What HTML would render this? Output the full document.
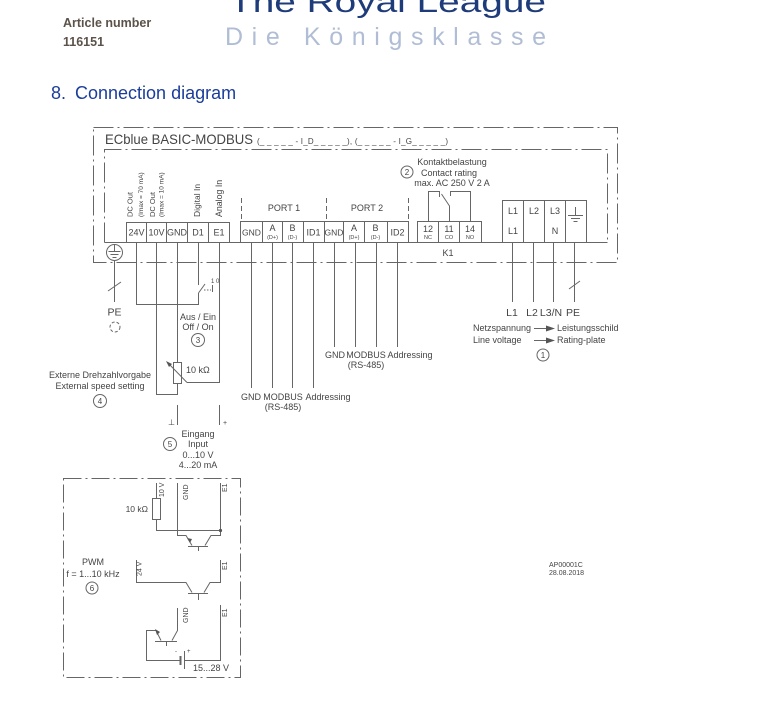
<!DOCTYPE html>
<html><head><meta charset="utf-8"><style>
html,body{margin:0;padding:0;background:#fff;}
svg{display:block;}
text{font-family:"Liberation Sans",Arial,sans-serif;}
</style></head><body>
<svg width="758" height="704" viewBox="0 0 758 704" xmlns="http://www.w3.org/2000/svg">
<rect width="758" height="704" fill="#fff"/>
<!-- header -->
<text x="63" y="27" font-size="12.5" font-weight="bold" fill="#5b5249">Article number</text>
<text x="63" y="46" font-size="12.5" font-weight="bold" fill="#5b5249">116151</text>
<text x="229" y="12" font-size="30" fill="#1f3c7a" textLength="317" lengthAdjust="spacingAndGlyphs">The Royal League</text>
<text x="225" y="45" font-size="25" fill="#b0bdd5" textLength="321" lengthAdjust="spacing">Die Königsklasse</text>
<text x="51" y="99" font-size="18" fill="#1b3d9b">8.</text>
<text x="75" y="99" font-size="18" fill="#1b3d9b">Connection diagram</text>

<g stroke="#666" stroke-width="1" fill="none">
  <!-- outer & inner borders -->
  <path d="M93.5,127.5 H617.5 V262.5 H93.5 Z" stroke-dasharray="20 4 2 4"/>
  <path d="M104.5,242.5 V149.5 H607.5 V242.5" stroke-dasharray="20 4 2 4"/>
  <path d="M104.5,242.5 H607.5"/>
  <!-- terminal group 1 -->
  <rect x="126.5" y="222.5" width="103" height="20"/>
  <path d="M146.5,222.5V242.5M166.5,222.5V242.5M187.5,222.5V242.5M208.5,222.5V242.5"/>
  <!-- ports -->
  <rect x="240.5" y="221.5" width="168" height="21"/>
  <path d="M262.5,221.5V242.5M282.5,221.5V242.5M303.5,221.5V242.5M324.5,221.5V242.5M343.5,221.5V242.5M364.5,221.5V242.5M387.5,221.5V242.5"/>
  <path d="M241.5,198V220M326.5,198V220M408.5,198V220" stroke-dasharray="5 3"/>
  <!-- relay -->
  <rect x="417.5" y="221.5" width="64" height="21"/>
  <path d="M438.5,221.5V242.5M459.5,221.5V242.5"/>
  <path d="M428.5,221.5 V191.5 H439.5 V197"/>
  <path d="M470.5,221.5 V191.5 H450.5 V196"/>
  <path d="M449.5,221.5 V206 L441.5,194"/>
  <!-- mains -->
  <rect x="502.5" y="200.5" width="84" height="42"/>
  <path d="M523.5,200.5V242.5M544.5,200.5V242.5M565.5,200.5V242.5"/>
  <path d="M575.5,207V215.5M568,215.5H583M571,218.5H580M573.5,221.5H577.5"/>
  <!-- PE left -->
  <circle cx="114.5" cy="252.5" r="8"/>
  <path d="M114.5,245V251.5M108.5,251.5H120.5M110.5,254.5H118.5M112.5,257.5H116.5"/>
  <path d="M114.5,260.5V302M108,291L121,282"/>
  <circle cx="115" cy="327" r="5" stroke-dasharray="3 2"/>
  <!-- left wiring -->
  <path d="M136.5,242.5 V304.5 H198.5 V293"/>
  <path d="M198.5,242.5 V285"/>
  <path d="M198.5,293 L205,284"/>
  <path d="M204,290 H211" stroke-dasharray="1.5 1.5"/>
  <path d="M212.5,285 V292"/>
  <path d="M156.5,242.5 V394.5 H177.5 V383.5"/>
  <path d="M177.5,242.5 V362.5"/>
  <rect x="173.5" y="362.5" width="8" height="21"/>
  <path d="M187,382.5 L168,363"/>
  <path d="M187,382.5 H219.5 V242.5"/>
  <path d="M177.5,405V425M219.5,405V425"/>
  <!-- port wires -->
  <path d="M251.5,242.5V388M272.5,242.5V388M292.5,242.5V388M313.5,242.5V388"/>
  <path d="M334.5,242.5V347M355.5,242.5V347M376.5,242.5V347M397.5,242.5V347"/>
  <!-- mains wires -->
  <path d="M512.5,242.5V302M533.5,242.5V302M553.5,242.5V302M574.5,242.5V302"/>
  <path d="M569,289L580,281"/>
  <path d="M534,328.5H548M534,340.5H548"/>
  <!-- circles -->
  <circle cx="407" cy="172" r="6"/>
  <circle cx="198" cy="340" r="6.5"/>
  <circle cx="100" cy="401" r="6.5"/>
  <circle cx="170" cy="444" r="6.5"/>
  <circle cx="543" cy="355" r="6"/>
  <circle cx="92" cy="588" r="6"/>
  <!-- PWM box -->
  <rect x="63.5" y="478.5" width="177" height="199" stroke-dasharray="18 4 2 4"/>
  <path d="M156.5,483 V498.5 M156.5,519.5 V530.5 H220.5"/>
  <rect x="152.5" y="498.5" width="8" height="21"/>
  <path d="M177.5,483 V535.5 H186 L192,545.5"/>
  <path d="M220.5,483 V535.5 H211 L205,545.5"/>
  <path d="M188,546.5 H208 M198.5,546.5 V551"/>
  <path d="M136.5,560 V582.5 H186 L192,592.5"/>
  <path d="M188,593.5 H208 M198.5,593.5 V600"/>
  <path d="M204,592.5 L210,582.5 H220.5 V560"/>
  <path d="M177.5,608 V630.5 L172,640.5"/>
  <path d="M155,641.5 H177 M166.5,641.5 V646"/>
  <path d="M161,640.5 L156,630.5 H146.5 V660.5 H180"/>
  <path d="M180.5,656 V665" stroke-width="2"/>
  <path d="M184.5,651 V669"/>
  <path d="M184.5,660.5 H220.5 V605"/>
</g>
<g fill="#555">
  <circle cx="220.5" cy="530.5" r="1.6"/>
  <polygon points="546,325.5 555,328.5 546,331.5"/>
  <polygon points="546,337.5 555,340.5 546,343.5"/>
  <polygon points="166,361 172,364 169,367"/>
  <polygon points="187,538 190,543 192,539"/>
  <polygon points="155,629 160,632 157,635"/>
</g>

<g fill="#444" font-size="9">
  <text x="105" y="144" font-size="14" textLength="148" lengthAdjust="spacingAndGlyphs">ECblue BASIC-MODBUS</text>
  <text x="257" y="144" font-size="8" textLength="191" lengthAdjust="spacing">(_ _ _ _ _ - I_D_ _ _ _ _), (_ _ _ _ _ - I_G_ _ _ _ _)</text>

  <text transform="translate(132.5,217) rotate(-90)" font-size="7.5">DC Out</text>
  <text transform="translate(143,217) rotate(-90)" font-size="6.5">(Imax = 70 mA)</text>
  <text transform="translate(155,217) rotate(-90)" font-size="7.5">DC Out</text>
  <text transform="translate(163.5,217) rotate(-90)" font-size="6.5">(Imax = 10 mA)</text>
  <text transform="translate(200,217) rotate(-90)" font-size="8.5">Digital In</text>
  <text transform="translate(222,217) rotate(-90)" font-size="8.8">Analog In</text>

  <g text-anchor="middle">
    <text x="136.5" y="235.5">24V</text>
    <text x="156.5" y="235.5">10V</text>
    <text x="177" y="235.5">GND</text>
    <text x="198" y="235.5">D1</text>
    <text x="219" y="235.5">E1</text>

    <text x="284" y="211">PORT 1</text>
    <text x="367" y="211">PORT 2</text>
    <text x="251.5" y="235.5" font-size="8.5">GND</text>
    <text x="272.5" y="231">A</text>
    <text x="272.5" y="239" font-size="5.5">(D+)</text>
    <text x="292.5" y="231">B</text>
    <text x="292.5" y="239" font-size="5.5">(D-)</text>
    <text x="313.5" y="235.5">ID1</text>
    <text x="334" y="235.5" font-size="8.5">GND</text>
    <text x="354" y="231">A</text>
    <text x="354" y="239" font-size="5.5">(D+)</text>
    <text x="375.5" y="231">B</text>
    <text x="375.5" y="239" font-size="5.5">(D-)</text>
    <text x="397.5" y="235.5">ID2</text>

    <text x="428" y="232">12</text>
    <text x="428" y="239" font-size="5.5">NC</text>
    <text x="449" y="232">11</text>
    <text x="449" y="239" font-size="5.5">CO</text>
    <text x="470" y="232">14</text>
    <text x="470" y="239" font-size="5.5">NO</text>
    <text x="448" y="256">K1</text>

    <text x="513" y="214">L1</text>
    <text x="513" y="234">L1</text>
    <text x="534" y="214">L2</text>
    <text x="555" y="214">L3</text>
    <text x="555" y="234">N</text>

    <text x="452" y="165">Kontaktbelastung</text>
    <text x="449" y="176">Contact rating</text>
    <text x="452" y="186">max. AC 250 V 2 A</text>
    <text x="407" y="175" font-size="8">2</text>

    <text x="114.5" y="315.5" font-size="10.5">PE</text>
    <text x="198" y="320">Aus / Ein</text>
    <text x="198" y="330">Off / On</text>
    <text x="198" y="343" font-size="8">3</text>
    <text x="100" y="378">Externe Drehzahlvorgabe</text>
    <text x="100" y="389">External speed setting</text>
    <text x="100" y="404" font-size="8">4</text>
    <text x="198" y="437">Eingang</text>
    <text x="198" y="447">Input</text>
    <text x="198" y="458">0...10 V</text>
    <text x="198" y="468">4...20 mA</text>
    <text x="170" y="447" font-size="8">5</text>

    <text x="251" y="400">GND</text>
    <text x="283" y="400">MODBUS</text>
    <text x="283" y="410">(RS-485)</text>
    <text x="328" y="400">Addressing</text>
    <text x="335" y="358">GND</text>
    <text x="366" y="358">MODBUS</text>
    <text x="366" y="368">(RS-485)</text>
    <text x="410" y="358">Addressing</text>

    <text x="512" y="316" font-size="10.5">L1</text>
    <text x="532" y="316" font-size="10.5">L2</text>
    <text x="551" y="316" font-size="10.5">L3/N</text>
    <text x="573" y="316" font-size="10.5">PE</text>
    <text x="543" y="358" font-size="8">1</text>

    <text x="93" y="565">PWM</text>
    <text x="93" y="577">f = 1...10 kHz</text>
    <text x="92" y="591" font-size="8">6</text>
  </g>
  <text x="186" y="373">10 kΩ</text>
  <text x="168" y="425" font-size="8">⊥</text>
  <text x="223" y="425" font-size="7">+</text>
  <text x="211" y="283" font-size="6">1 0</text>

  <text x="473" y="331">Netzspannung</text>
  <text x="557" y="331">Leistungsschild</text>
  <text x="473" y="343">Line voltage</text>
  <text x="557" y="343">Rating-plate</text>

  <text x="148" y="512" font-size="8.5" text-anchor="end">10 kΩ</text>
  <text transform="translate(164,497) rotate(-90)" font-size="7">10 V</text>
  <text transform="translate(188,500) rotate(-90)" font-size="7">GND</text>
  <text transform="translate(227,492) rotate(-90)" font-size="7">E1</text>
  <text transform="translate(141.5,576) rotate(-90)" font-size="7">24 V</text>
  <text transform="translate(227,570) rotate(-90)" font-size="7">E1</text>
  <text transform="translate(188,623) rotate(-90)" font-size="7">GND</text>
  <text transform="translate(227,617) rotate(-90)" font-size="7">E1</text>
  <text x="175" y="653" font-size="6">-</text>
  <text x="187" y="653" font-size="6">+</text>
  <text x="193" y="671">15...28 V</text>

  <text x="549" y="567" font-size="7">AP00001C</text>
  <text x="549" y="575" font-size="7">28.08.2018</text>
</g>
</svg>
</body></html>
